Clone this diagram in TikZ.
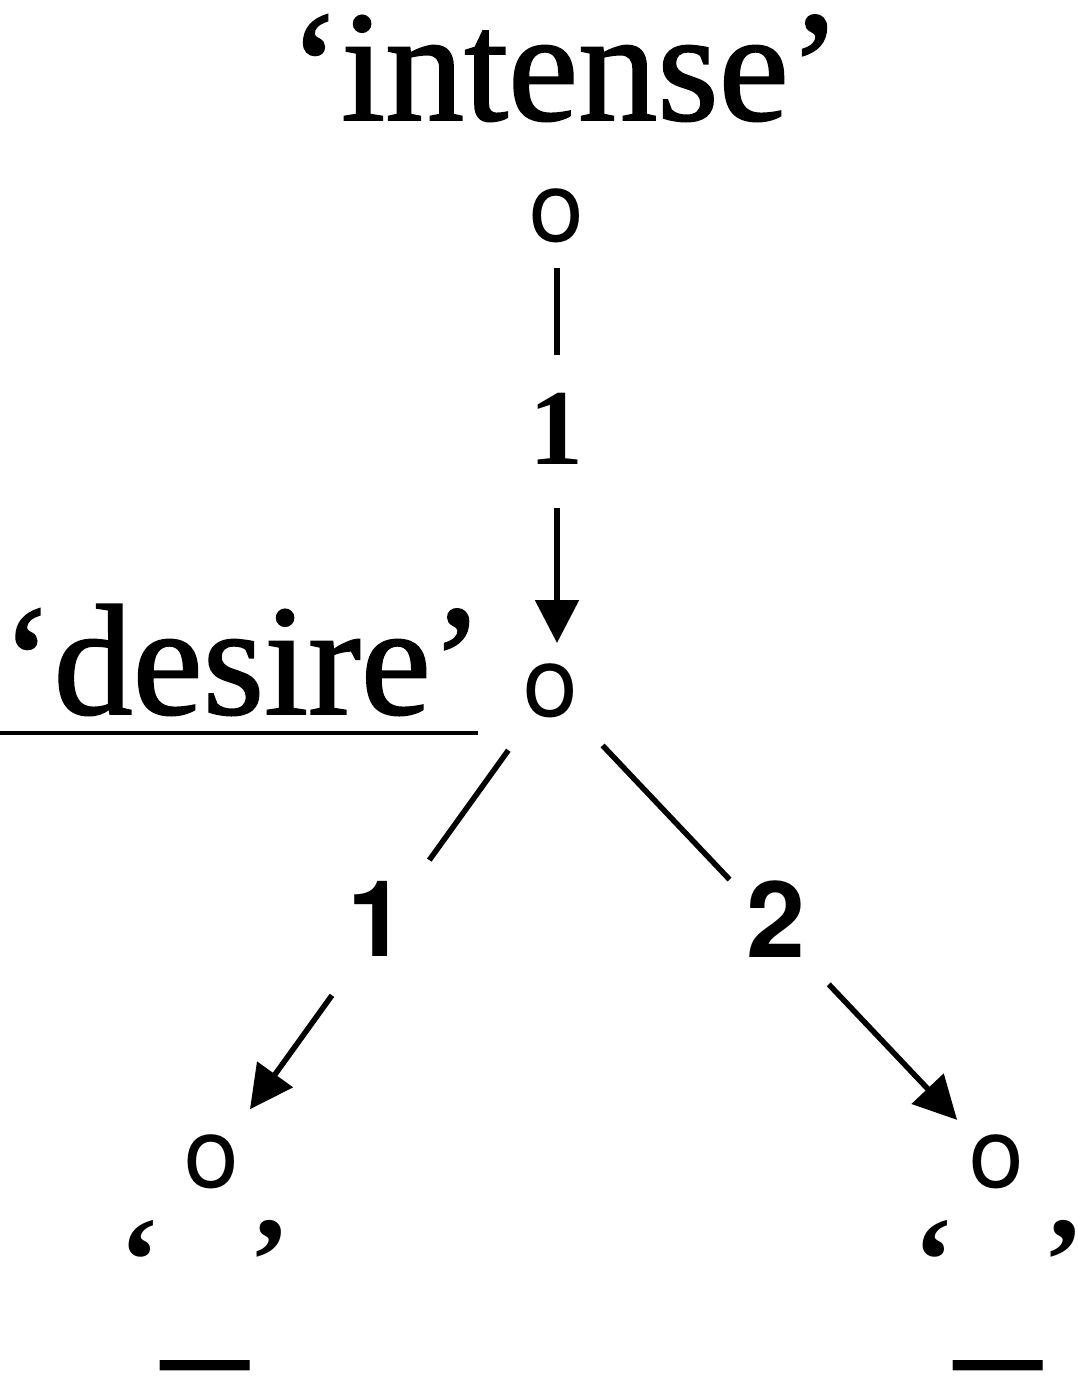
\documentclass[tikz,border=0pt]{standalone}
\usepackage{fontspec}
\setmainfont{Liberation Serif}[BoldFont={Liberation Serif Bold}]
\newfontfamily\lserifheavy{Liberation Serif}[FakeBold=1.2]
\newfontfamily\lsans{TeX Gyre Heros}
\usetikzlibrary{arrows.meta}
\begin{document}
\begin{tikzpicture}[x=1pt,y=-1pt,
  word/.style={inner sep=0pt, outer sep=0pt, font=\lserifheavy\fontsize{158}{160}\selectfont},
  dot/.style={inner sep=0pt, outer sep=0pt, font=\lsans\fontsize{98}{100}\selectfont},
  serifnum/.style={inner sep=0pt, outer sep=0pt, font=\rmfamily\bfseries\fontsize{108}{110}\selectfont},
  sansnum/.style={inner sep=0pt, outer sep=0pt, font=\lsans\bfseries\fontsize{106}{110}\selectfont},
  quotes/.style={inner sep=0pt, outer sep=0pt, anchor=base, font=\rmfamily\bfseries\fontsize{122}{122}\selectfont},
  blank/.style={inner sep=0pt, outer sep=0pt, anchor=base, font=\lsans\bfseries\fontsize{150}{150}\selectfont},
  edge/.style={line width=5.5pt},
  arr/.style={edge, -{Triangle[length=43pt,width=43pt]}}
]
\useasboundingbox (0,0) rectangle (1077,1382);
% texts
\node[word, anchor=base] (intense) at (565,120) {‘intense’};
\node[word, anchor=base west] (desire) at (1,714) {‘desire’};
\draw[line width=4pt] (0,733) -- (478,733);
% nodes
\node[dot] (top) at (557,216) {o};
\node[dot] (mid) at (551,691) {o};
\node[dot] (bl) at (212,1162) {o};
\node[dot] (br) at (997,1162) {o};
% labels
\node[serifnum] (l0) at (556,429) {1};
\node[sansnum] (l1) at (377,919) {1};
\node[sansnum] (l2) at (776,919) {2};
% blanks
\node[quotes] (ql) at (205,1301) {‘\hspace{90pt}’};
\node[quotes] (qr) at (999,1301) {‘\hspace{90pt}’};
\node[blank] (ul) at (205,1342) {\_};
\node[blank] (ur) at (998,1342) {\_};
% connectors
\draw[edge, shorten <=52pt, shorten >=336pt] (top.center) -- (top.center |- mid.center);
\draw[arr, shorten <=292pt, shorten >=48pt] (top.center) -- (top.center |- mid.center);
\draw[edge, shorten <=73pt, shorten >=372pt] (mid.center) -- (bl.center);
\draw[arr, shorten <=375pt, shorten >=65pt] (mid.center) -- (bl.center);
\draw[edge, shorten <=75pt, shorten >=389pt] (mid.center) -- (br.center);
\draw[arr, shorten <=404pt, shorten >=58pt] (mid.center) -- (br.center);
\end{tikzpicture}
\end{document}
